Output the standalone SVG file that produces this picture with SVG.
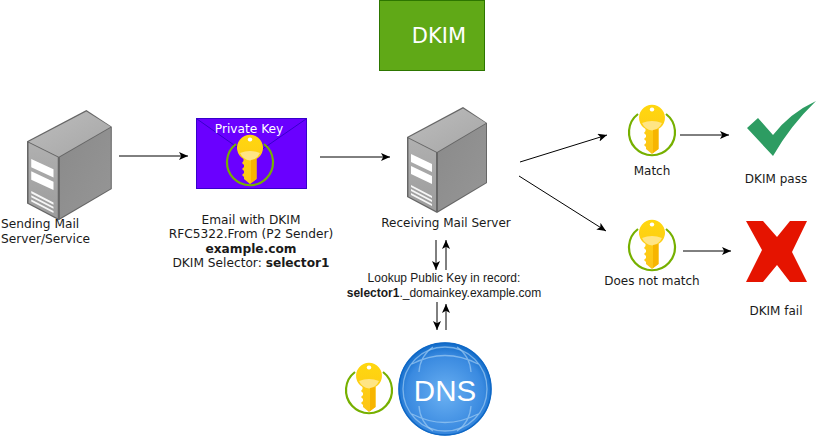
<svg xmlns="http://www.w3.org/2000/svg" xmlns:xlink="http://www.w3.org/1999/xlink" width="822" height="437" viewBox="0 0 822 437">
<style>
.t{font-family:"DejaVu Sans",Verdana,sans-serif;font-size:12px;fill:#1a1a1a;text-anchor:middle}
.w{font-size:12.200px}
.h{font-family:"Liberation Sans",Arial,sans-serif;font-size:12px;fill:#1a1a1a;text-anchor:middle}
.b{font-weight:bold}
.c{fill:none;stroke:#000;stroke-width:1;marker-end:url(#a)}
</style>
<defs>
<marker id="a" viewBox="0 0 10 8" refX="9" refY="4" markerWidth="10" markerHeight="8" markerUnits="userSpaceOnUse" orient="auto"><path d="M0,0 L9,4 L0,8 L2.2,4 Z" fill="#000"/></marker>
<linearGradient id="top" x1="0" y1="0" x2="1" y2="1"><stop offset="0" stop-color="#bdbdbd"/><stop offset="1" stop-color="#a6a6a6"/></linearGradient>
<linearGradient id="front" x1="0" y1="0" x2="0" y2="1"><stop offset="0" stop-color="#b0b0b0"/><stop offset="1" stop-color="#9c9c9c"/></linearGradient>
<linearGradient id="side" x1="0" y1="0" x2="1" y2="1"><stop offset="0" stop-color="#8a8a8a"/><stop offset="1" stop-color="#969696"/></linearGradient>
<linearGradient id="kg" x1="0" y1="0" x2="0" y2="1"><stop offset="0" stop-color="#ffd70f"/><stop offset="1" stop-color="#fcc419"/></linearGradient>
<radialGradient id="dg" cx="0.5" cy="0.55" r="0.55"><stop offset="0" stop-color="#6ab0f2"/><stop offset="0.75" stop-color="#3a8ae0"/><stop offset="1" stop-color="#0f6ac8"/></radialGradient>
<g id="server">
<path d="M0,30 L56,0 L80,16 L80,76 L30,106 L0,90 Z" fill="#666"/>
<path d="M1.500,30.500 L56,1.500 L79,16 L30,45 Z" fill="url(#top)"/>
<path d="M1.500,31.500 L29,45.500 L29,104 L1.500,89.500 Z" fill="url(#front)"/>
<path d="M31,45.500 L79,17 L79,75.500 L31,104 Z" fill="url(#side)"/>
<path d="M4,47 L25,57 L25,65 L4,55 Z M4,59 L25,69 L25,77 L4,67 Z" fill="#fff"/>
<path d="M4,78 L25,89 L25,91 L4,80 Z M4,82 L25,93 L25,95 L4,84 Z M4,86 L25,97 L25,99 L4,88 Z" fill="#fff" fill-opacity=".9"/>
</g>
<g id="key">
<path d="M-14,-18 A23,23 0 1 0 14,-18" fill="none" stroke="#76b000" stroke-width="2.200"/>
<path d="M-6.500,-3 A13,13 0 1 1 6.500,-3 L6.500,17 L0,22 L-6,17 L-6,15 L-8,13 L-6,11 L-6,9 L-8,7 L-6,5 L-6,3 L-8,1 L-6.500,-1 Z" fill="url(#kg)"/>
<path d="M-10,-9 Q0,-13 10,-9 A13,13 0 0 1 0,-1.500 A13,13 0 0 1 -10,-9 Z" fill="#ffe585"/>
<path d="M1,-2 L6.500,-3 L6.500,17 L1,21 Z" fill="#f7b500"/>
<rect x="-2.200" y="-24.500" width="4.400" height="4" rx="2" fill="#fff"/>
</g>
</defs>

<g id="connectors">
<path class="c" d="M119,156 L188,156"/>
<path class="c" d="M320,157 L390,157"/>
<path class="c" d="M520,162 L607,135"/>
<path class="c" d="M519,176 L606,231"/>
<path class="c" d="M680,135 L729,135"/>
<path class="c" d="M683,251 L731,251"/>
<path class="c" d="M436,240 L436,270"/>
<path class="c" d="M446,270 L446,240"/>
<path class="c" d="M437,302 L437,330"/>
<path class="c" d="M446,330 L446,304"/>
</g>

<g id="title"><rect x="379.500" y="0.500" width="105" height="70" fill="#60a917" stroke="#2d7600"/><text x="439" y="43" font-family="'DejaVu Sans',Verdana,sans-serif" font-size="21" fill="#fff" text-anchor="middle">DKIM</text></g>

<g id="sending-server"><use xlink:href="#server" href="#server" transform="translate(27,110) scale(1.060,1.040)"/><text class="t w" x="1" y="228" style="text-anchor:start">Sending Mail</text><text class="t w" x="1" y="243" style="text-anchor:start">Server/Service</text></g>

<g id="email">
<rect x="196.500" y="118.500" width="110" height="70" fill="#6a00ff" stroke="#3700cc"/>
<path d="M197,119 L251,157 L306,119" fill="none" stroke="#3700cc"/>
<text x="249" y="133" font-family="'DejaVu Sans',Verdana,sans-serif" font-size="12.200" fill="#fff" text-anchor="middle">Private Key</text>
<use xlink:href="#key" href="#key" x="250" y="162"/>
<text class="t w" x="251" y="224">Email with DKIM</text>
<text class="t w" x="251" y="238">RFC5322.From (P2 Sender)</text>
<text class="t w b" x="251" y="253">example.com</text>
<text class="t w" x="251" y="267">DKIM Selector: <tspan class="b">selector1</tspan></text>
</g>

<g id="receiving-server"><use xlink:href="#server" href="#server" x="407" y="107"/><text class="t" x="446" y="227">Receiving Mail Server</text></g>

<g id="lookup"><text class="h" x="444" y="282">Lookup Public Key in record:</text><text class="h" x="444" y="297"><tspan class="b">selector1</tspan>._domainkey.example.com</text></g>

<g id="dns-key"><use xlink:href="#key" href="#key" x="369" y="390"/></g>
<g id="dns">
<circle cx="445" cy="389" r="46.500" fill="url(#dg)"/>
<circle cx="445" cy="389" r="46" fill="none" stroke="#0f68c6" stroke-width="1.500"/>
<g fill="none" stroke="#a5cff5" stroke-width="1.300" stroke-opacity=".65">
<circle cx="445" cy="389" r="42"/>
<path d="M412,364 Q445,347 478,364 M412,414 Q445,431 478,414 M433,347 Q420,356 419,372 M457,347 Q470,356 471,372 M433,431 Q420,422 419,406 M457,431 Q470,422 471,406"/>
</g>
<text x="445" y="401" font-family="'Liberation Sans',Arial,sans-serif" font-size="29.500" fill="#fff" text-anchor="middle">DNS</text>
</g>

<g id="match"><use xlink:href="#key" href="#key" x="652" y="132"/><text class="t" x="652" y="175">Match</text></g>
<g id="pass"><path d="M747,128 L758,118 L773,135 Q790,113 816,101 Q790,126 773,156 Z" fill="#2d9c62"/><text class="t" x="776" y="183">DKIM pass</text></g>
<g id="nomatch"><use xlink:href="#key" href="#key" x="652" y="247"/><text class="t" x="652" y="285">Does not match</text></g>
<g id="fail"><path d="M746,221 L763,221 L777,237 L790,221 L807,221 L792,252 L807,282 L790,282 L777,265 L763,282 L746,282 L762,250 Z" fill="#e51400"/><text class="t" x="776" y="315">DKIM fail</text></g>
</svg>
